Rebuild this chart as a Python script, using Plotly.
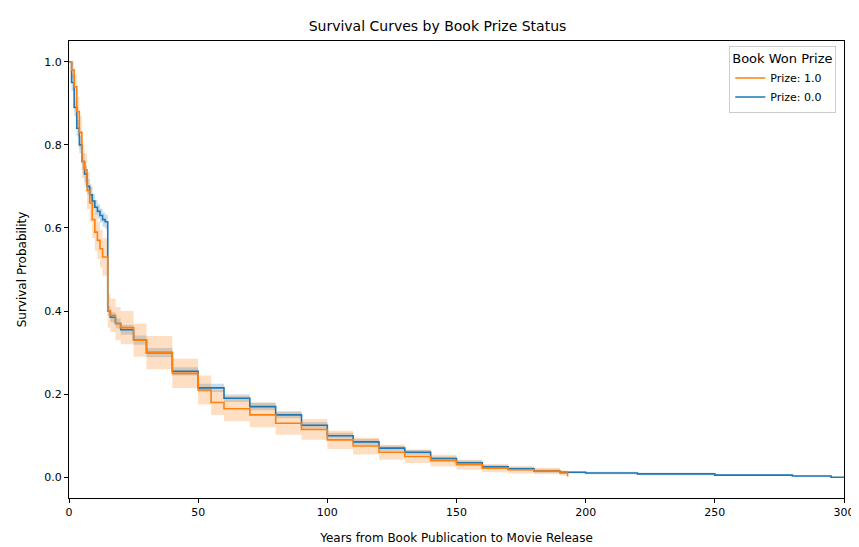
import plotly.graph_objects as go

# Kaplan-Meier estimates (step-post)
t_no = [0, 1, 2, 3, 4, 5, 6, 7, 8, 9, 10, 11, 12, 13, 14, 15, 16, 18, 20, 25, 30, 40, 50, 60, 70,
        80, 90, 100, 110, 120, 130, 140, 150, 160, 170, 180, 190, 200, 220, 250, 280, 295, 300]
s_no = [1.0, 0.95, 0.89, 0.84, 0.80, 0.76, 0.73, 0.70, 0.68, 0.665, 0.65, 0.64, 0.63, 0.62, 0.615,
        0.40, 0.385, 0.37, 0.355, 0.33, 0.30, 0.255, 0.215, 0.19, 0.17, 0.15, 0.125, 0.10, 0.085,
        0.07, 0.06, 0.045, 0.035, 0.025, 0.02, 0.015, 0.012, 0.01, 0.008, 0.005, 0.003, 0.0, 0.0]
ci_no = [0.0, 0.02, 0.02, 0.02, 0.02, 0.02, 0.02, 0.018, 0.018, 0.018, 0.018, 0.017, 0.017, 0.017,
         0.017, 0.012, 0.012, 0.012, 0.012, 0.011, 0.011, 0.01, 0.01, 0.009, 0.009, 0.008, 0.008,
         0.007, 0.007, 0.006, 0.006, 0.005, 0.005, 0.004, 0.004, 0.004, 0.003, 0.003, 0.003, 0.002,
         0.002, 0.0, 0.0]

t_yes = [0, 1, 2, 3, 4, 5, 6, 7, 8, 9, 10, 11, 12, 13, 15, 16, 18, 20, 25, 30, 40, 50, 55, 60, 70,
         80, 90, 100, 110, 120, 130, 140, 150, 160, 170, 180, 190, 193]
s_yes = [1.0, 0.98, 0.94, 0.88, 0.83, 0.76, 0.74, 0.69, 0.66, 0.62, 0.59, 0.57, 0.55, 0.53, 0.40,
         0.39, 0.37, 0.36, 0.33, 0.30, 0.25, 0.21, 0.18, 0.165, 0.15, 0.13, 0.115, 0.09, 0.075, 0.06,
         0.05, 0.04, 0.03, 0.022, 0.018, 0.015, 0.01, 0.002]
ci_yes = [0.0, 0.02, 0.03, 0.035, 0.04, 0.04, 0.04, 0.045, 0.045, 0.045, 0.045, 0.045, 0.045, 0.045,
          0.04, 0.04, 0.04, 0.04, 0.04, 0.04, 0.035, 0.035, 0.03, 0.03, 0.03, 0.028, 0.025, 0.022,
          0.02, 0.018, 0.016, 0.014, 0.012, 0.01, 0.009, 0.008, 0.006, 0.002]

SERIES = [("Prize: 0.0", t_no, s_no, ci_no, "#1f77b4", "rgba(31,119,180,0.25)"),
          ("Prize: 1.0", t_yes, s_yes, ci_yes, "#ff7f0e", "rgba(255,127,14,0.25)")]

fig = go.Figure()
for name, t, s, ci, col, fill in SERIES:
    lo = [max(v - c, 0) for v, c in zip(s, ci)]
    hi = [min(v + c, 1) for v, c in zip(s, ci)]
    fig.add_trace(go.Scatter(x=t, y=lo, mode="lines", line=dict(width=0, shape="hv"),
                             showlegend=False, hoverinfo="skip"))
    fig.add_trace(go.Scatter(x=t, y=hi, mode="lines", line=dict(width=0, shape="hv"),
                             fill="tonexty", fillcolor=fill, showlegend=False, hoverinfo="skip"))
for name, t, s, ci, col, fill in SERIES:
    fig.add_trace(go.Scatter(x=t, y=s, mode="lines", name=name,
                             line=dict(color=col, width=1.6, shape="hv")))

ax = dict(showgrid=False, zeroline=False, showline=True, mirror=True, linecolor="black",
          ticks="outside", ticklen=4, tickcolor="black", tickfont=dict(size=11, color="black"))
fig.update_layout(
    width=859, height=547, paper_bgcolor="white", plot_bgcolor="white",
    font=dict(family="DejaVu Sans", color="black"),
    title=dict(text="Survival Curves by Book Prize Status", x=0.5, xanchor="center",
               y=0.975, font=dict(size=14)),
    margin=dict(l=61, r=21, t=33, b=52),
    xaxis=dict(range=[0, 300], tickvals=[0, 50, 100, 150, 200, 250, 300],
               title=dict(text="Years from Book Publication to Movie Release", font=dict(size=12)), **ax),
    yaxis=dict(range=[-0.05, 1.05], tickvals=[0, 0.2, 0.4, 0.6, 0.8, 1.0], tickformat=".1f",
               title=dict(text="Survival Probability", font=dict(size=12)), **ax),
    legend=dict(title=dict(text="Book Won Prize", side="top"), x=0.99, y=0.99, xanchor="right",
                yanchor="top", bordercolor="#cccccc", borderwidth=1, bgcolor="white",
                font=dict(size=11)),
)
fig.write_html("out.html")
